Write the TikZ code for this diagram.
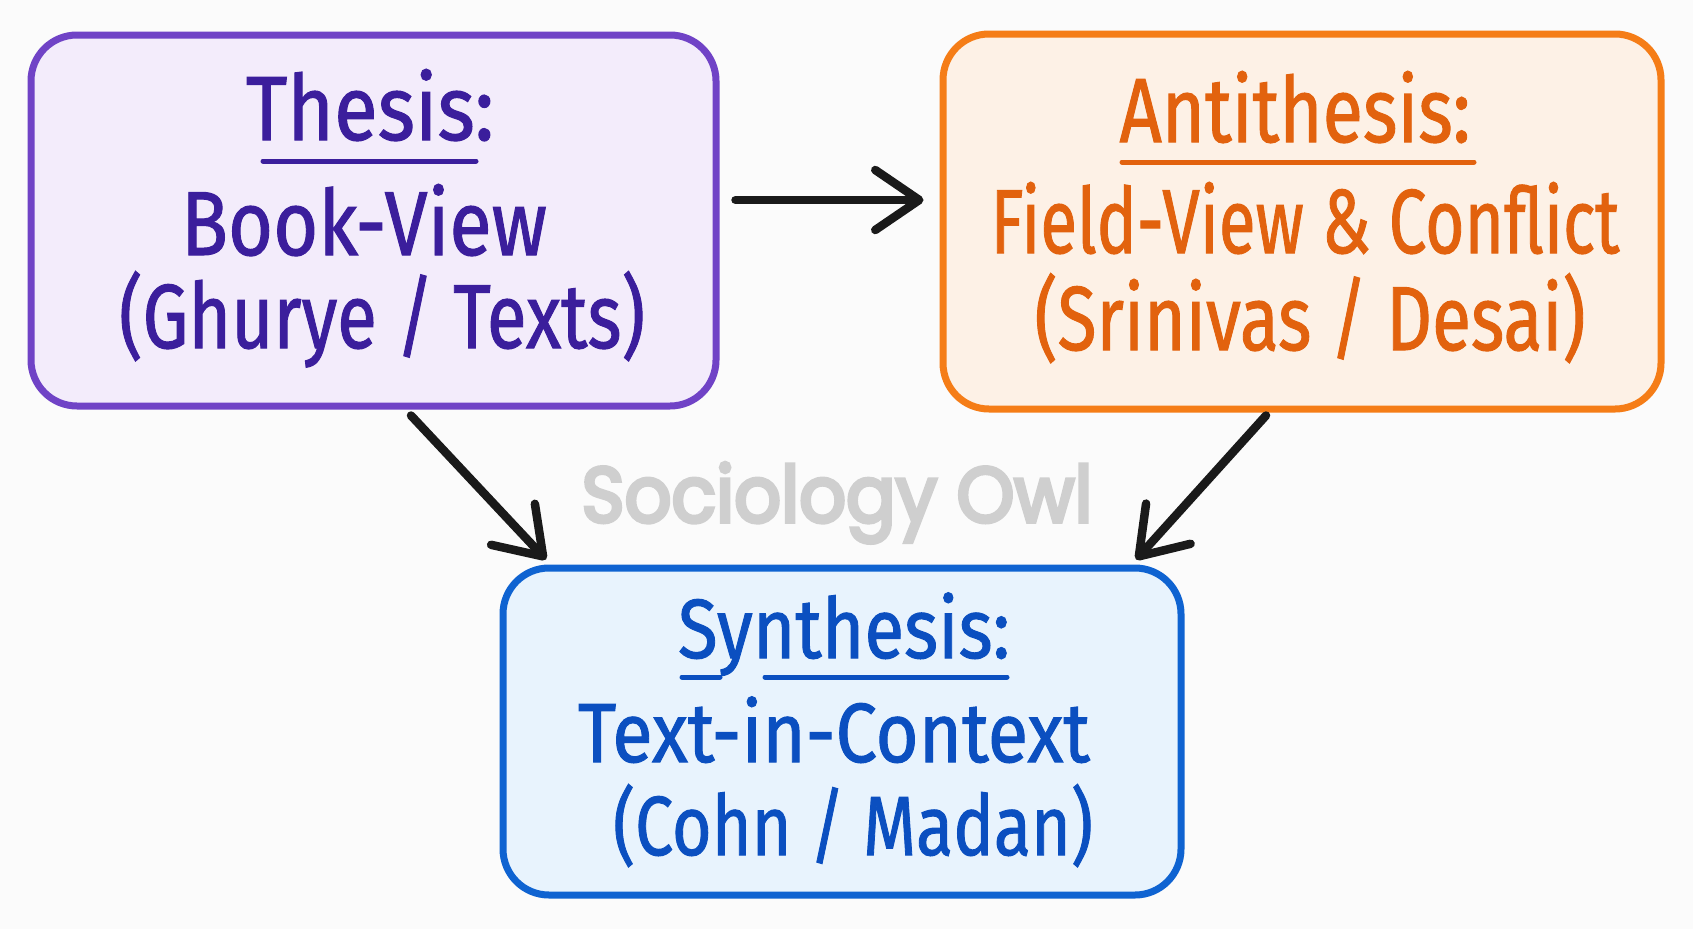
\documentclass[tikz,border=0pt]{standalone}
\usepackage{fontspec}
\usepackage{graphicx}
\setmainfont{Fira Sans}
\newfontfamily\handfont{Fira Sans}[FakeBold=1.2]
\newfontfamily\wmfont{Poppins}[FakeBold=5]
\usetikzlibrary{arrows.meta,calc}
\definecolor{bgc}{HTML}{FBFBFB}
\definecolor{purpT}{HTML}{3B1E9C}
\definecolor{purpB}{HTML}{7043C6}
\definecolor{purpF}{HTML}{F3ECFB}
\definecolor{oranT}{HTML}{E2620E}
\definecolor{oranB}{HTML}{F57D17}
\definecolor{oranF}{HTML}{FDF1E6}
\definecolor{blueT}{HTML}{0B4FC0}
\definecolor{blueB}{HTML}{0F63D1}
\definecolor{blueF}{HTML}{E8F3FD}
\definecolor{wmc}{HTML}{CFCFCF}
\definecolor{arrc}{HTML}{1A1A1A}
\newcommand{\fitw}[2]{\resizebox{#1}{\height}{#2}}
\tikzset{
  box/.style={draw=#1B, fill=#1F, line width=7pt, rounded corners=46pt, inner sep=0pt},
  txt/.style={anchor=base, inner sep=0pt, text=#1T},
  bigfont/.style={font=\handfont\fontsize{91}{91}\selectfont},
  midfont/.style={font=\handfont\fontsize{84}{84}\selectfont},
  ul/.style={draw=#1T, line width=5pt, line cap=round},
  arr/.style={draw=arrc, line width=8.5pt, line cap=round, line join=round,
    -{Straight Barb[length=44pt,width=60pt,round]}},
}
\begin{document}
\begin{tikzpicture}[x=1pt,y=-1pt]
\useasboundingbox (0,0) rectangle (1693,929);
\fill[bgc] (0,0) rectangle (1693,929);

% boxes
\node[box=purp, minimum width=685pt, minimum height=371pt] (thesis) at (373.5,220.5) {};
\node[box=oran, minimum width=718pt, minimum height=375pt] (anti) at (1302,221.5) {};
\node[box=blue, minimum width=678pt, minimum height=327pt] (synth) at (842,731.5) {};

% watermark
\node[anchor=base, inner sep=0pt, text=wmc, font=\wmfont\fontsize{78}{78}\selectfont] (wm) at (837,522) {\fitw{511pt}{Sociology Owl}};

% thesis texts
\node[txt=purp, bigfont] (t1) at (370,140) {\fitw{248pt}{Thesis:}};
\node[txt=purp, bigfont] (t2) at (364,255) {\fitw{366pt}{Book-View}};
\node[txt=purp, bigfont] (t3) at (382,348) {\fitw{526pt}{(Ghurye / Texts)}};
\draw[ul=purp] (263,161) -- (476,161);

% antithesis texts
\node[txt=oran, bigfont] (a1) at (1295,142) {\fitw{351pt}{Antithesis:}};
\node[txt=oran, bigfont] (a2) at (1305,253) {\fitw{629pt}{Field-View \& Conflict}};
\node[txt=oran, bigfont] (a3) at (1310,350) {\fitw{551pt}{(Srinivas / Desai)}};
\draw[ul=oran] (1122,162) -- (1474,162);

% synthesis texts
\node[txt=blue, midfont] (s1) at (844,658) {\fitw{332pt}{Synthesis:}};
\node[txt=blue, midfont] (s2) at (834,762) {\fitw{512pt}{Text-in-Context}};
\node[txt=blue, midfont] (s3) at (853,855) {\fitw{480pt}{(Cohn / Madan)}};
\draw[ul=blue] (682,677) -- (720,677);
\draw[ul=blue] (765,677) -- (1007,677);

% connectors
\draw[arr] ([xshift=16pt,yshift=20.5pt]thesis.east) -- ([xshift=-16pt,yshift=21.5pt]anti.west);
\draw[arr] ([xshift=37.5pt,yshift=-6pt]thesis.south) -- ([xshift=-296pt,yshift=5pt]synth.north);
\draw[arr] ([xshift=-36pt,yshift=-3pt]anti.south) -- ([xshift=294pt,yshift=5pt]synth.north);
\end{tikzpicture}
\end{document}
